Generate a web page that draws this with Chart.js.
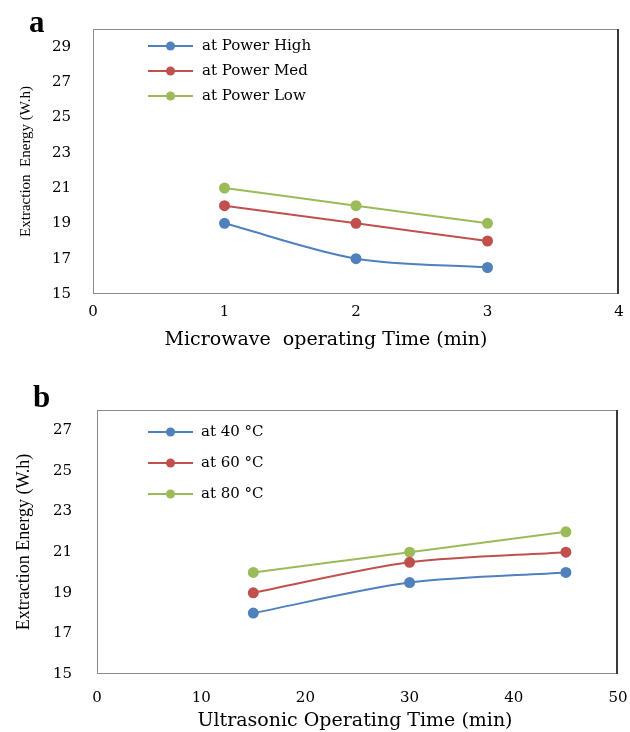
<!DOCTYPE html>
<html>
<head>
<meta charset="utf-8">
<script src="https://cdn.jsdelivr.net/npm/chart.js@4/dist/chart.umd.min.js"></script>
<style>
  html, body { margin: 0; padding: 0; background: #ffffff; }
  #wrapA { position: absolute; left: 0; top: 0; width: 630px; height: 360px; }
  #wrapB { position: absolute; left: 0; top: 365px; width: 630px; height: 367px; }
</style>
</head>
<body>
<div id="wrapA"><canvas id="chartA" width="630" height="360"></canvas></div>
<div id="wrapB"><canvas id="chartB" width="630" height="367"></canvas></div>
<script>
// ---- Data: chart a (microwave) ----
const timeA = [1, 2, 3];
const powerHigh = [19, 17, 16.5];
const powerMed = [20, 19, 18];
const powerLow = [21, 20, 19];
const seriesNamesA = ['at Power High', 'at Power Med', 'at Power Low'];
const xTicksA = [0, 1, 2, 3, 4];
const yTicksA = [15, 17, 19, 21, 23, 25, 27, 29];

// ---- Data: chart b (ultrasonic) ----
const timeB = [15, 30, 45];
const temp40 = [18, 19.5, 20];
const temp60 = [19, 20.5, 21];
const temp80 = [20, 21, 22];
const seriesNamesB = ['at 40 °C', 'at 60 °C', 'at 80 °C'];
const xTicksB = [0, 10, 20, 30, 40, 50];
const yTicksB = [15, 17, 19, 21, 23, 25, 27];

const COLORS = ['#4F81BD', '#C0504D', '#9BBB59'];
const SANS = "'DejaVu Serif', serif";
const TIMES = "'Liberation Serif', 'Times New Roman', serif";

function toPoints(xs, ys) { return xs.map((x, i) => ({ x: x, y: ys[i] })); }

function makeDatasets(xs, seriesList, names) {
  return seriesList.map((ys, i) => ({
    label: names[i],
    data: toPoints(xs, ys),
    borderColor: COLORS[i],
    backgroundColor: COLORS[i],
    pointBackgroundColor: COLORS[i],
    pointBorderColor: COLORS[i],
    pointRadius: 4.5,
    pointHoverRadius: 4.5,
    borderWidth: 2,
    tension: 0.3,
    fill: false
  }));
}

const boxPlugin = {
  id: 'plotBox',
  afterDraw(chart) {
    const ca = chart.chartArea, ctx = chart.ctx;
    ctx.save();
    ctx.strokeStyle = '#8a8a8a';
    ctx.lineWidth = 1;
    ctx.strokeRect(ca.left + 0.5, ca.top + 0.5, ca.right - ca.left - 1, ca.bottom - ca.top - 1);
    ctx.strokeStyle = '#3a3a3a';
    ctx.lineWidth = 2;
    ctx.beginPath();
    ctx.moveTo(ca.right - 1, ca.top);
    ctx.lineTo(ca.right - 1, ca.bottom);
    ctx.stroke();
    ctx.restore();
  }
};

const innerLegendPlugin = {
  id: 'innerLegend',
  afterDatasetsDraw(chart, args, opts) {
    const ca = chart.chartArea, ctx = chart.ctx;
    ctx.save();
    chart.data.datasets.forEach((ds, i) => {
      const y = ca.top + opts.y0 + i * opts.dy;
      const x1 = ca.left + opts.lineStart, x2 = ca.left + opts.lineEnd;
      ctx.strokeStyle = ds.borderColor;
      ctx.lineWidth = 2;
      ctx.beginPath(); ctx.moveTo(x1, y); ctx.lineTo(x2, y); ctx.stroke();
      ctx.fillStyle = ds.borderColor;
      ctx.beginPath(); ctx.arc((x1 + x2) / 2, y, 4.5, 0, Math.PI * 2); ctx.fill();
      ctx.fillStyle = '#000';
      ctx.font = opts.font;
      ctx.textBaseline = 'middle';
      ctx.textAlign = 'left';
      ctx.fillText(ds.label, ca.left + opts.textX, y);
    });
    ctx.restore();
  }
};

// panel letter and x-axis title (placed like in the original figure)
const textsPlugin = {
  id: 'figTexts',
  afterDraw(chart, args, opts) {
    const ctx = chart.ctx;
    ctx.save();
    ctx.fillStyle = '#000';
    ctx.font = 'bold 31px ' + TIMES;
    ctx.textBaseline = 'alphabetic';
    ctx.textAlign = 'left';
    ctx.fillText(opts.panel, opts.panelX, opts.panelY);
    ctx.font = opts.xTitleFont;
    ctx.textAlign = 'center';
    ctx.textBaseline = 'middle';
    ctx.fillText(opts.xTitle, opts.xTitleX, opts.xTitleY);
    ctx.restore();
  }
};

function makeChart(id, cfg) {
  return new Chart(document.getElementById(id), {
    type: 'line',
    data: { datasets: cfg.datasets },
    plugins: [boxPlugin, innerLegendPlugin, textsPlugin],
    options: {
      responsive: false,
      animation: false,
      devicePixelRatio: 1,
      layout: { padding: cfg.padding },
      plugins: {
        legend: { display: false },
        tooltip: { enabled: false },
        innerLegend: cfg.legend,
        figTexts: cfg.texts
      },
      scales: {
        x: {
          type: 'linear',
          min: cfg.xTicks[0],
          max: cfg.xTicks[cfg.xTicks.length - 1],
          afterBuildTicks: (s) => { s.ticks = cfg.xTicks.map(v => ({ value: v })); },
          afterFit: (s) => { s.height = cfg.xHeight; s.paddingLeft = 0; s.paddingRight = 0; },
          grid: { display: false, drawTicks: false },
          border: { display: false },
          ticks: { color: '#000', font: { family: SANS, size: 15 }, padding: cfg.xTickPad, maxRotation: 0 },
          title: { display: false }
        },
        y: {
          type: 'linear',
          min: cfg.yMin,
          max: cfg.yMax,
          afterBuildTicks: (s) => { s.ticks = cfg.yTicks.map(v => ({ value: v })); },
          afterFit: (s) => { s.width = cfg.yWidth; s.paddingTop = 0; s.paddingBottom = 0; },
          grid: { display: false, drawTicks: false },
          border: { display: false },
          ticks: { color: '#000', font: { family: SANS, size: 15 }, padding: cfg.yTickPad },
          title: {
            display: true, text: cfg.yTitle, color: '#000',
            font: { family: TIMES, size: cfg.yTitleSize },
            padding: { top: cfg.yTitlePad, bottom: 0 }
          }
        }
      }
    }
  });
}

makeChart('chartA', {
  datasets: makeDatasets(timeA, [powerHigh, powerMed, powerLow], seriesNamesA),
  padding: { top: 29, right: 11, left: 0, bottom: 0 },
  xTicks: xTicksA, yTicks: yTicksA, yMin: 15, yMax: 30,
  xHeight: 66, yWidth: 93, xTickPad: 9, yTickPad: 22,
  yTitle: 'Extraction  Energy (W.h)', yTitleSize: 15, yTitlePad: 17,
  legend: { y0: 17, dy: 25, lineStart: 55, lineEnd: 100, textX: 109, font: '15px ' + SANS },
  texts: { panel: 'a', panelX: 29, panelY: 32,
           xTitle: 'Microwave  operating Time (min)', xTitleX: 326, xTitleY: 340, xTitleFont: '19px ' + SANS }
});

makeChart('chartB', {
  datasets: makeDatasets(timeB, [temp40, temp60, temp80], seriesNamesB),
  padding: { top: 45, right: 12, left: 0, bottom: 0 },
  xTicks: xTicksB, yTicks: yTicksB, yMin: 15, yMax: 28,
  xHeight: 58, yWidth: 97, xTickPad: 15, yTickPad: 25,
  yTitle: 'Extraction Energy (W.h)', yTitleSize: 18, yTitlePad: 13,
  legend: { y0: 22, dy: 31, lineStart: 51, lineEnd: 96, textX: 104, font: '15px ' + SANS },
  texts: { panel: 'b', panelX: 33, panelY: 42,
           xTitle: 'Ultrasonic Operating Time (min)', xTitleX: 355, xTitleY: 356, xTitleFont: '19px ' + SANS }
});
</script>
</body>
</html>
